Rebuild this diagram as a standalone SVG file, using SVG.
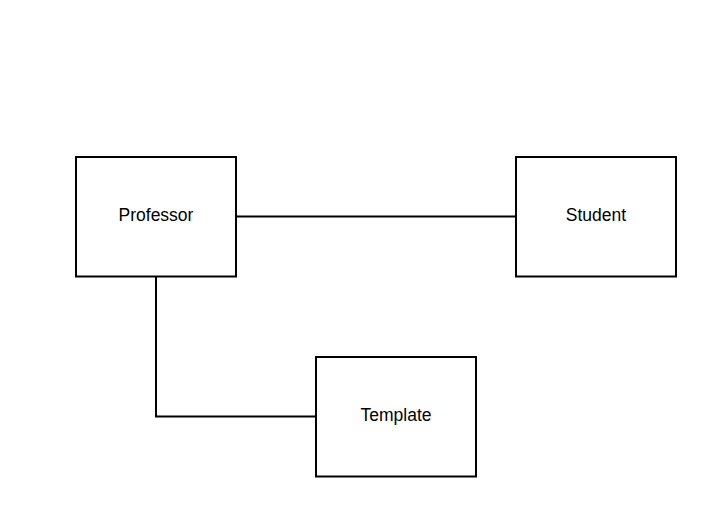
<svg xmlns="http://www.w3.org/2000/svg" width="715" height="516" viewBox="0 0 715 516">
<style>
.box{fill:#fff;stroke:#000;stroke-width:2}
.lbl{font-family:"Liberation Sans",Arial,sans-serif;font-size:17.5px;fill:#000;text-anchor:middle;dominant-baseline:central}
.conn{fill:none;stroke:#000;stroke-width:2}
</style>
<rect width="715" height="516" fill="#fff"/>
<g id="connectors">
<path class="conn" d="M236,216.5 H516"/>
<path class="conn" d="M156,276 V416.5 H316"/>
</g>
<g id="professor"><rect class="box" x="76" y="157" width="160" height="119.5"/><text class="lbl" x="156" y="215">Professor</text></g>
<g id="student"><rect class="box" x="516" y="157" width="160" height="119.5"/><text class="lbl" x="596" y="215">Student</text></g>
<g id="template"><rect class="box" x="316" y="357" width="160" height="119.5"/><text class="lbl" x="396" y="415">Template</text></g>
</svg>
